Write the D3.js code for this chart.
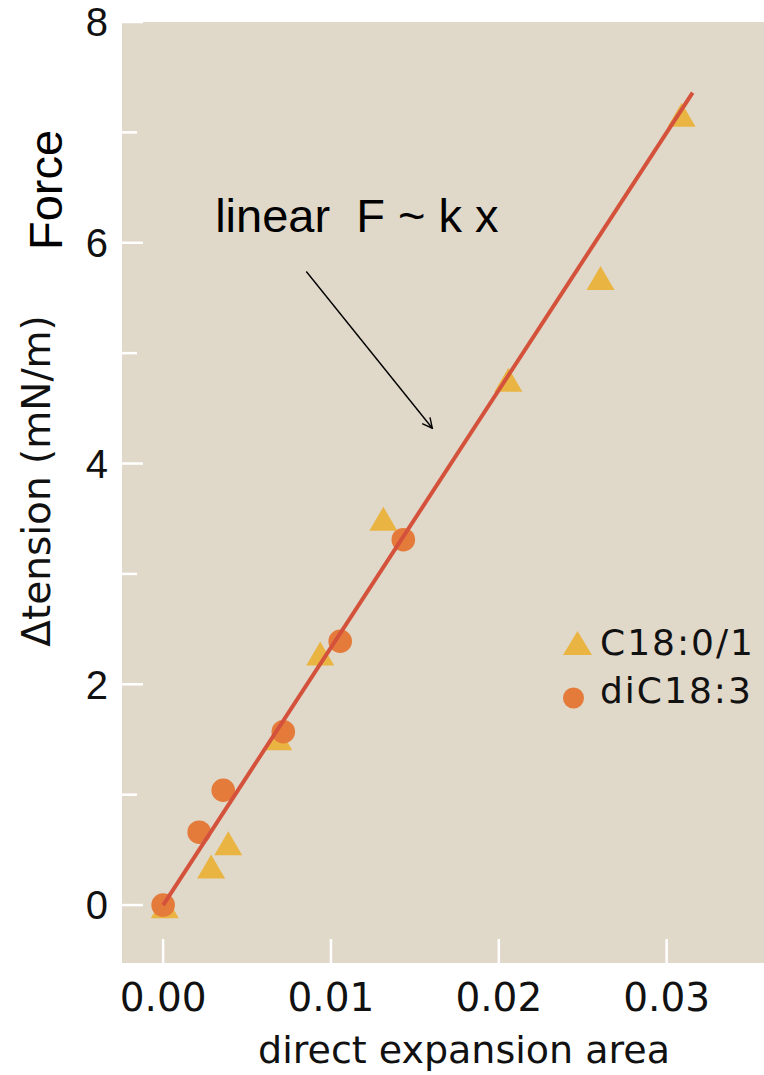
<!DOCTYPE html>
<html>
  <head>
    <meta charset="utf-8">
    <title>Tension vs expansion area</title>
    <script src="https://cdn.jsdelivr.net/npm/d3@7"></script>
    <style>
      body { margin: 0; background: #fff; }
      svg { display: block; }
      .tickLabelY { font-family: "Liberation Sans", Arial, sans-serif; font-size: 40px; fill: #111; }
      .tickLabelX, .axisTitle, .legendLabel { font-family: "DejaVu Sans", sans-serif; fill: #111; }
      .note { font-family: "Liberation Sans", Arial, sans-serif; fill: #000; }
    </style>
  </head>

  <body>
    <svg id="chart" width="764" height="1075">
      <defs>
        <marker id="arrowHead" viewBox="0 0 12 12" refX="11" refY="6" markerWidth="12" markerHeight="12" markerUnits="userSpaceOnUse" orient="auto">
          <path d="M1,1 L11,6 L1,11" fill="none" stroke="#000" stroke-width="1.4"></path>
        </marker>
      </defs>
      <g id="plotGroup"></g>
    </svg>

    <script>
      // data
      triX = [0.0001, 0.00286, 0.00388, 0.00686, 0.00936, 0.01312, 0.02057, 0.02606, 0.03089];
      triY = [-0.01, 0.35, 0.56, 1.51, 2.28, 3.50, 4.76, 5.68, 7.16];
      dotX = [0.0, 0.00215, 0.00358, 0.00716, 0.01055, 0.01431];
      dotY = [0.0, 0.66, 1.04, 1.57, 2.39, 3.31];
      fitX = [0, 0.03155];
      fitY = [0, 7.36];
      arrowX = [0.00853, 0.01604];
      arrowY = [5.74, 4.32];
      xTicks = [0, 0.01, 0.02, 0.03];
      yTicks = [0, 1, 2, 3, 4, 5, 6, 7, 8];
      yLabels = [0, 2, 4, 6, 8];
      seriesNames = ["C18:0/1", "diC18:3"];

      // colours
      bgColour = "#e0d8c9";
      triColour = "#eab443";
      dotColour = "#e57b3b";
      lineColour = "#d4523b";

      chart = d3.select("#chart");
      plotGroup = d3.select("#plotGroup");

      margin = {top: 22, right: 0, bottom: 112, left: 122};
      width = 764;
      height = 1075;

      scaleX = d3.scaleLinear()
        .domain([-0.00245, 0.0358])
        .range([margin.left, width - margin.right]);

      scaleY = d3.scaleLinear()
        .domain([-0.525, 8])
        .range([height - margin.bottom, margin.top]);

      // plot background
      plotGroup.append("rect")
        .attr("x", margin.left)
        .attr("y", margin.top)
        .attr("width", width - margin.left - margin.right)
        .attr("height", height - margin.top - margin.bottom)
        .attr("fill", bgColour);

      // y ticks (white, inside)
      plotGroup.selectAll(".yTick")
          .data(yTicks)
        .enter().append("line")
          .attr("x1", margin.left)
          .attr("x2", d => margin.left + (d % 2 == 0 ? 21 : 15))
          .attr("y1", d => scaleY(d))
          .attr("y2", d => scaleY(d))
          .attr("stroke", "#fff")
          .attr("stroke-width", 2.5);

      plotGroup.selectAll(".tickLabelY")
          .data(yLabels)
        .enter().append("text")
          .classed("tickLabelY", true)
          .attr("x", 108)
          .attr("y", d => scaleY(d))
          .attr("dy", "0.36em")
          .attr("text-anchor", "end")
          .text(d => d);

      // x ticks
      plotGroup.selectAll(".xTick")
          .data(xTicks)
        .enter().append("line")
          .attr("x1", d => scaleX(d))
          .attr("x2", d => scaleX(d))
          .attr("y1", height - margin.bottom)
          .attr("y2", height - margin.bottom - 24)
          .attr("stroke", "#fff")
          .attr("stroke-width", 2.5);

      plotGroup.selectAll(".tickLabelX")
          .data(xTicks)
        .enter().append("text")
          .classed("tickLabelX", true)
          .attr("x", d => scaleX(d))
          .attr("y", 1011)
          .attr("text-anchor", "middle")
          .style("font-size", "39px")
          .text(d => d3.format(".2f")(d));

      // axis titles
      plotGroup.append("text")
        .classed("axisTitle", true)
        .attr("x", 464)
        .attr("y", 1063)
        .attr("text-anchor", "middle")
        .style("font-size", "38px")
        .text("direct expansion area");

      plotGroup.append("text")
        .classed("axisTitle", true)
        .attr("transform", "translate(50, 481) rotate(-90)")
        .attr("text-anchor", "middle")
        .style("font-size", "39px")
        .text("\u0394tension (mN/m)");

      plotGroup.append("text")
        .classed("note", true)
        .attr("transform", "translate(62, 190) rotate(-90)")
        .attr("text-anchor", "middle")
        .style("font-size", "47px")
        .text("Force");

      // triangle centred on its bounding box
      function triangle(w, h) {
        return "M0," + (-h / 2) + "L" + (w / 2) + "," + (h / 2) + "L" + (-w / 2) + "," + (h / 2) + "Z";
      }

      // points
      plotGroup.selectAll(".tri")
          .data(d3.range(triX.length))
        .enter().append("path")
          .classed("tri", true)
          .attr("d", triangle(28, 24))
          .attr("transform", d => "translate(" + scaleX(triX[d]) + "," + scaleY(triY[d]) + ")")
          .attr("fill", triColour);

      plotGroup.selectAll(".dot")
          .data(d3.range(dotX.length))
        .enter().append("circle")
          .classed("dot", true)
          .attr("cx", d => scaleX(dotX[d]))
          .attr("cy", d => scaleY(dotY[d]))
          .attr("r", 11.8)
          .attr("fill", dotColour);

      // fit line
      fitLine = d3.line()
        .x(d => scaleX(fitX[d]))
        .y(d => scaleY(fitY[d]));

      plotGroup.append("path")
        .datum(d3.range(fitX.length))
        .attr("d", fitLine)
        .attr("fill", "none")
        .attr("stroke", lineColour)
        .attr("stroke-width", 4);

      // annotation
      plotGroup.append("text")
        .classed("note", true)
        .attr("x", scaleX(0.0031))
        .attr("y", scaleY(6.1))
        .style("font-size", "47px")
        .style("white-space", "pre")
        .attr("xml:space", "preserve")
        .text("linear  F ~ k x");

      plotGroup.append("line")
        .attr("x1", scaleX(arrowX[0]))
        .attr("y1", scaleY(arrowY[0]))
        .attr("x2", scaleX(arrowX[1]))
        .attr("y2", scaleY(arrowY[1]))
        .attr("stroke", "#000")
        .attr("stroke-width", 1.4)
        .attr("marker-end", "url(#arrowHead)");

      // legend
      legend = plotGroup.append("g");

      legend.append("path")
        .attr("d", triangle(29, 24))
        .attr("transform", "translate(577.5, 643)")
        .attr("fill", triColour);

      legend.append("circle")
        .attr("cx", 573.5)
        .attr("cy", 698)
        .attr("r", 10.5)
        .attr("fill", dotColour);

      legend.selectAll(".legendLabel")
          .data(seriesNames)
        .enter().append("text")
          .classed("legendLabel", true)
          .attr("x", 600)
          .attr("y", (d, i) => 655 + i * 48)
          .style("font-size", "36px")
          .style("letter-spacing", "2px")
          .text(d => d);
    </script>
  </body>
</html>
